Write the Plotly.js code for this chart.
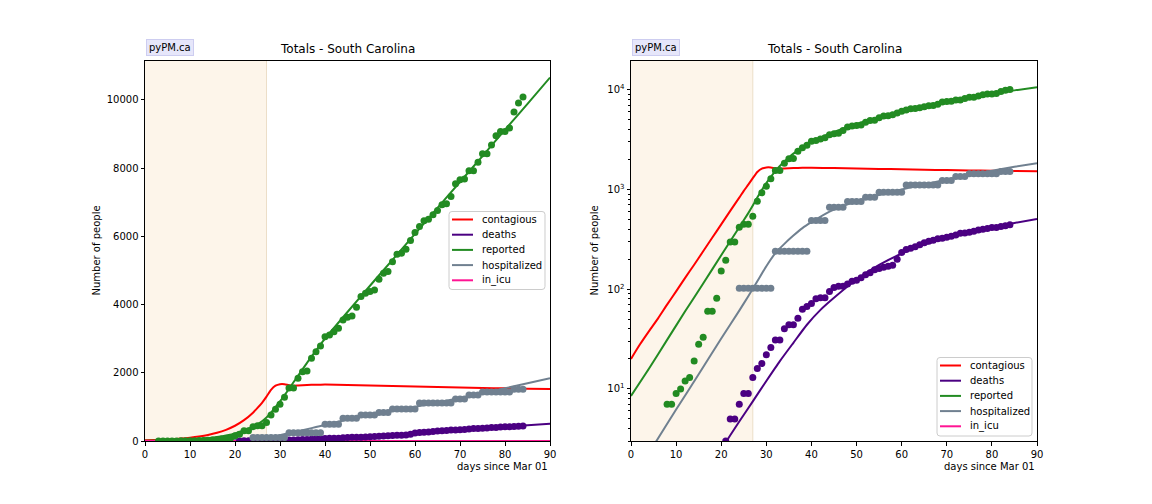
<!DOCTYPE html>
<html>
<head>
<meta charset="utf-8">
<script src="https://cdn.plot.ly/plotly-3.0.1.min.js"></script>
<style>html,body{margin:0;padding:0;background:#fff;}#chart{width:1152px;height:504px;}</style>
</head>
<body>
<div id="chart"></div>
<script>
// ---------- data ----------
const seriesNames = ["contagious", "deaths", "reported", "hospitalized", "in_icu"];
const seriesColors = ["#ff0000", "#4b0082", "#228b22", "#708090", "#ff1493"];

// observed daily points (first day index + values)
const reportedStart = 3;
const reportedValues = [1, 1, 2, 2, 2, 7, 7, 9, 10, 12, 13, 19, 28, 33, 60, 60, 81, 152, 195, 298, 298,
  419, 449, 449, 540, 762, 929, 1076, 1281, 1554, 1554, 1838, 2032, 2053, 2425, 2619, 2786, 3058,
  3108, 3205, 3305, 3548, 3627, 3666, 3921, 4232, 4331, 4378, 4428, 4741, 4917, 4965, 5249, 5475,
  5504, 5622, 5874, 6109, 6285, 6451, 6500, 6628, 6757, 6920, 6950, 7165, 7537, 7654, 7674, 7918,
  7918, 8172, 8416, 8416, 8671, 8944, 9071, 9071, 9169, 9639, 9902, 10079];

const deathsStart = 21;
const deathsValues = [3, 5, 5, 7, 9, 9, 13, 16, 18, 22, 26, 31, 31, 40, 44, 44, 51, 63, 67, 72, 80, 82,
  82, 95, 104, 107, 107, 113, 120, 123, 130, 140, 146, 157, 161, 166, 170, 174, 200, 234, 250, 258,
  267, 280, 293, 303, 309, 320, 325, 332, 339, 350, 364, 367, 373, 382, 392, 399, 407, 415, 416,
  425, 432, 442];

const hospStart = 24;
const hospValues = [102, 102, 102, 102, 102, 102, 102, 102, 240, 240, 240, 240, 240, 240, 240, 240,
  488, 488, 488, 488, 663, 663, 663, 663, 760, 760, 760, 760, 837, 837, 837, 940, 940, 940, 940,
  940, 940, 1110, 1110, 1110, 1110, 1110, 1110, 1110, 1110, 1230, 1230, 1230, 1350, 1350, 1350,
  1436, 1436, 1436, 1436, 1436, 1436, 1436, 1514, 1514, 1514];

// model curves
const contagiousModelX = [0, 2, 4, 6, 8, 10, 12, 14, 16, 18, 20, 22, 24, 25, 26, 27, 28, 29, 30, 31, 32, 33, 34, 36, 38, 40, 45, 50, 55, 60, 65, 70, 75, 80, 85, 90];
const contagiousModelY = [20, 28, 38, 51, 70, 95, 130, 176, 240, 328, 447, 610, 830, 970, 1120, 1300, 1500, 1620, 1665, 1665, 1635, 1620, 1625, 1640, 1650, 1652, 1642, 1625, 1610, 1595, 1580, 1566, 1554, 1543, 1533, 1525];

const reportedModelX = [0, 4, 8, 12, 16, 20, 24, 26, 27, 28, 29, 30, 31, 32, 33, 34, 35, 36, 37, 38, 39, 40, 45, 50, 55, 60, 65, 70, 75, 80, 85, 90];
const reportedModelY = [8.5, 16, 31, 60, 114, 219, 419, 580, 690, 830, 990, 1160, 1340, 1530, 1720, 1910, 2100, 2290, 2470, 2650, 2830, 3000, 3780, 4550, 5310, 6070, 6830, 7590, 8350, 9120, 9880, 10650];

const hospModelX = [0, 5, 10, 15, 20, 24, 26, 28, 30, 32, 34, 36, 38, 40, 44, 50, 55, 60, 65, 70, 75, 80, 85, 90];
const hospModelY = [1.2, 2.7, 6.2, 14, 32, 61, 85, 120, 170, 230, 285, 345, 410, 470, 600, 760, 880, 1000, 1130, 1260, 1400, 1545, 1690, 1840];

const deathsModelX = [20, 21, 24, 27, 30, 33, 36, 39, 42, 45, 50, 55, 60, 65, 70, 75, 80, 85, 90];
const deathsModelY = [2.4, 2.9, 4.7, 7.5, 12, 19, 29, 44, 62, 82, 125, 175, 228, 280, 328, 375, 420, 462, 505];

const icuModelX = [0, 90];
const icuModelY = [0, 0];

const xTicks = [0, 10, 20, 30, 40, 50, 60, 70, 80, 90];
const linTicks = [0, 2000, 4000, 6000, 8000, 10000];
const logTicks = [10, 100, 1000, 10000];
const logTickText = ["10<sup>1</sup>", "10<sup>2</sup>", "10<sup>3</sup>", "10<sup>4</sup>"];
const shadeEnd = 27;
const titleText = "Totals - South Carolina";

// ---------- build ----------
function days(start, n) { const a = []; for (let i = 0; i < n; i++) a.push(start + i); return a; }

const models = [
  [contagiousModelX, contagiousModelY],
  [deathsModelX, deathsModelY],
  [reportedModelX, reportedModelY],
  [hospModelX, hospModelY],
  [icuModelX, icuModelY]
];
const observed = [
  null,
  [days(deathsStart, deathsValues.length), deathsValues, 1],
  [days(reportedStart, reportedValues.length), reportedValues, 2],
  [days(hospStart, hospValues.length), hospValues, 3],
  null
];

const traces = [];
[["x", "y"], ["x2", "y2"]].forEach(([xa, ya]) => {
  models.forEach((m, i) => {
    traces.push({
      x: m[0], y: m[1], type: "scatter", mode: "lines", name: seriesNames[i], showlegend: false,
      line: {color: seriesColors[i], width: 2, shape: "spline", smoothing: 0.6},
      xaxis: xa, yaxis: ya, hoverinfo: "skip"
    });
  });
  observed.forEach((o) => {
    if (!o) return;
    traces.push({
      x: o[0], y: o[1], type: "scatter", mode: "markers", showlegend: false,
      marker: {color: seriesColors[o[2]], size: 7},
      xaxis: xa, yaxis: ya, hoverinfo: "skip"
    });
  });
});

const minorLog = [];
[1, 10, 100, 1000, 10000].forEach(b => { for (let k = 2; k <= 9; k++) minorLog.push(b * k); });

const W = 1152, H = 504;
const px = v => v / W, py = v => 1 - v / H;
const font = {family: "DejaVu Sans, sans-serif", size: 10, color: "#000"};

const axBase = {
  showline: true, linecolor: "#000", linewidth: 1, mirror: true, ticks: "outside",
  ticklen: 3.5, tickcolor: "#000", tickfont: font, showgrid: false, zeroline: false
};

const layout = {
  width: W, height: H, margin: {l: 0, r: 0, t: 0, b: 0},
  paper_bgcolor: "#fff", plot_bgcolor: "#fff", font: font, showlegend: false,
  xaxis: Object.assign({}, axBase, {domain: [px(145), px(550)], range: [0, 90], tickvals: xTicks, anchor: "y"}),
  yaxis: Object.assign({}, axBase, {domain: [1 - 441 / H, 1 - 60.5 / H], range: [0, 11150], tickvals: linTicks,
    ticktext: linTicks.map(String), anchor: "x"}),
  xaxis2: Object.assign({}, axBase, {domain: [px(631), px(1037)], range: [0, 90], tickvals: xTicks, anchor: "y2"}),
  yaxis2: Object.assign({}, axBase, {domain: [1 - 441 / H, 1 - 60.5 / H], type: "log", range: [Math.log10(3.0), Math.log10(19700)],
    tickvals: logTicks, ticktext: logTickText, anchor: "x2",
    minor: {tickvals: minorLog, ticks: "outside", ticklen: 2, tickcolor: "#000", showgrid: false}}),
  shapes: [],
  annotations: []
};

[["x", "y"], ["x2", "y2"]].forEach(([xa, ya]) => {
  layout.shapes.push({type: "rect", xref: xa, yref: ya + " domain", x0: 0, x1: shadeEnd, y0: 0, y1: 1,
    fillcolor: "rgba(253,245,234,1)", line: {width: 0}, layer: "below"});
  layout.shapes.push({type: "line", xref: xa, yref: ya + " domain", x0: shadeEnd, x1: shadeEnd, y0: 0, y1: 1,
    line: {color: "rgba(236,222,200,1)", width: 1}, layer: "below"});
});

function roundedBox(x0, y0, x1, y1, r) {
  const X = v => px(v).toFixed(5), Y = v => py(v).toFixed(5);
  return `M ${X(x0 + r)} ${Y(y0)} L ${X(x1 - r)} ${Y(y0)} Q ${X(x1)} ${Y(y0)} ${X(x1)} ${Y(y0 + r)} ` +
    `L ${X(x1)} ${Y(y1 - r)} Q ${X(x1)} ${Y(y1)} ${X(x1 - r)} ${Y(y1)} L ${X(x0 + r)} ${Y(y1)} ` +
    `Q ${X(x0)} ${Y(y1)} ${X(x0)} ${Y(y1 - r)} L ${X(x0)} ${Y(y0 + r)} Q ${X(x0)} ${Y(y0)} ${X(x0 + r)} ${Y(y0)} Z`;
}

// legends (matplotlib style), one per panel: [boxLeft, boxTop, boxRight, boxBottom]
[[449, 211.5, 545, 289.5], [937, 357.5, 1032, 436]].forEach(([bl, bt, br, bb]) => {
  layout.shapes.push({type: "path", xref: "paper", yref: "paper", path: roundedBox(bl, bt, br, bb, 3),
    fillcolor: "rgba(255,255,255,0.8)", line: {color: "#cccccc", width: 1}, layer: "above"});
  seriesNames.forEach((nm, i) => {
    const yc = bt + 8 + i * 15.2;
    layout.shapes.push({type: "line", xref: "paper", yref: "paper", x0: px(bl + 3), x1: px(bl + 24),
      y0: py(yc), y1: py(yc), line: {color: seriesColors[i], width: 2}, layer: "above"});
    layout.annotations.push({text: nm, xref: "paper", yref: "paper", x: px(bl + 31), y: py(yc),
      xanchor: "left", yanchor: "middle", showarrow: false, font: font});
  });
});

[[145, 550, 96], [631, 1037, 594]].forEach(([l, r, yl]) => {
  layout.annotations.push({text: titleText, xref: "paper", yref: "paper", x: px((l + r) / 2), y: py(49.5),
    xanchor: "center", yanchor: "middle", showarrow: false, font: {family: font.family, size: 12, color: "#000"}});
  layout.annotations.push({text: "pyPM.ca", xref: "paper", yref: "paper", x: px(l + 1), y: py(47.5),
    xanchor: "left", yanchor: "middle", showarrow: false, font: {family: font.family, size: 10, color: "#000"},
    bgcolor: "rgb(230,230,250)", bordercolor: "rgb(205,205,240)", borderwidth: 1, borderpad: 2});
  layout.annotations.push({text: "days since Mar 01", xref: "paper", yref: "paper", x: px(r), y: py(466),
    xanchor: "right", yanchor: "middle", showarrow: false, font: font});
  layout.annotations.push({text: "Number of people", xref: "paper", yref: "paper", x: px(yl), y: py(250.5),
    xanchor: "center", yanchor: "middle", textangle: -90, showarrow: false, font: font});
});

Plotly.newPlot("chart", traces, layout, {staticPlot: true, displayModeBar: false});
</script>
</body>
</html>
